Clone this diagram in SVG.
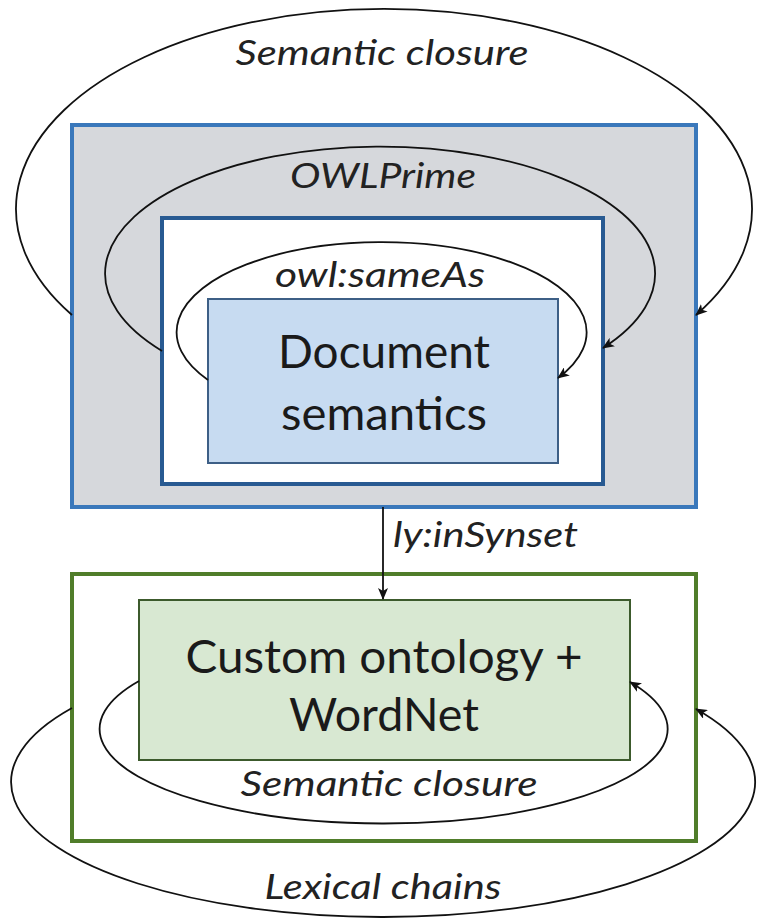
<svg xmlns="http://www.w3.org/2000/svg" width="757" height="924" viewBox="0 0 757 924">
  <style>
    .label { font-family: Lato, "Liberation Sans", sans-serif; font-style: italic; font-size: 35px; fill: #222; }
    .title { font-family: Lato, "Liberation Sans", sans-serif; font-size: 46px; fill: #1a1a1a; }
    .arc { fill: none; stroke: #111; stroke-width: 1.8; }
  </style>
  <defs>
    <marker id="arrow" viewBox="0 0 12 10" refX="11" refY="5" markerWidth="12" markerHeight="10" markerUnits="userSpaceOnUse" orient="auto">
      <path d="M0,0 L12,5 L0,10 L3,5 Z" fill="#111"/>
    </marker>
  </defs>

  <rect width="757" height="924" fill="#ffffff"/>

  <!-- reasoning layer around the document -->
  <g id="owlprime-layer">
    <rect x="72" y="125" width="624" height="382" fill="#d6d8dc" stroke="#3a78bb" stroke-width="4"/>
  </g>
  <g id="sameas-layer">
    <rect x="162" y="218" width="441" height="266" fill="#ffffff" stroke="#285a92" stroke-width="4"/>
  </g>
  <g id="document-semantics">
    <rect x="208" y="299" width="350" height="164" fill="#c7dbf1" stroke="#3d5f86" stroke-width="2"/>
    <text class="title" x="384" y="368" text-anchor="middle" textLength="212" lengthAdjust="spacingAndGlyphs">Document</text>
    <text class="title" x="384" y="430" text-anchor="middle" textLength="206" lengthAdjust="spacingAndGlyphs">semantics</text>
  </g>

  <!-- lexical layer -->
  <g id="lexical-layer">
    <rect x="72" y="574" width="624" height="267" fill="#ffffff" stroke="#507d2a" stroke-width="4"/>
  </g>
  <g id="custom-ontology">
    <rect x="139" y="600" width="491" height="160" fill="#d8e8d2" stroke="#3c5a2c" stroke-width="2"/>
    <text class="title" x="384" y="673" text-anchor="middle" textLength="397" lengthAdjust="spacingAndGlyphs">Custom ontology +</text>
    <text class="title" x="384" y="731" text-anchor="middle" textLength="190" lengthAdjust="spacingAndGlyphs">WordNet</text>
  </g>

  <!-- connectors -->
  <g id="connectors">
    <path class="arc" d="M72,315 A368,200 0 1 1 696,315" marker-end="url(#arrow)"/>
    <path class="arc" d="M162,351 A275,127 0 1 1 603,348" marker-end="url(#arrow)"/>
    <path class="arc" d="M208,380 A205,90 0 1 1 558,378" marker-end="url(#arrow)"/>
    <path class="arc" d="M383,507 L383,599" marker-end="url(#arrow)"/>
    <path class="arc" d="M139,681 A284,94.5 0 1 0 630,682" marker-end="url(#arrow)"/>
    <path class="arc" d="M72,708 A372,135 0 1 0 696,709" marker-end="url(#arrow)"/>

    <text class="label" x="382" y="65" text-anchor="middle" textLength="293" lengthAdjust="spacingAndGlyphs">Semantic closure</text>
    <text class="label" x="383" y="188" text-anchor="middle" textLength="186" lengthAdjust="spacingAndGlyphs">OWLPrime</text>
    <text class="label" x="380" y="287" text-anchor="middle" textLength="210" lengthAdjust="spacingAndGlyphs">owl:sameAs</text>
    <text class="label" x="393" y="547" textLength="185" lengthAdjust="spacingAndGlyphs">ly:inSynset</text>
    <text class="label" x="389" y="796" text-anchor="middle" textLength="297" lengthAdjust="spacingAndGlyphs">Semantic closure</text>
    <text class="label" x="383" y="899" text-anchor="middle" textLength="237" lengthAdjust="spacingAndGlyphs">Lexical chains</text>
  </g>
</svg>
